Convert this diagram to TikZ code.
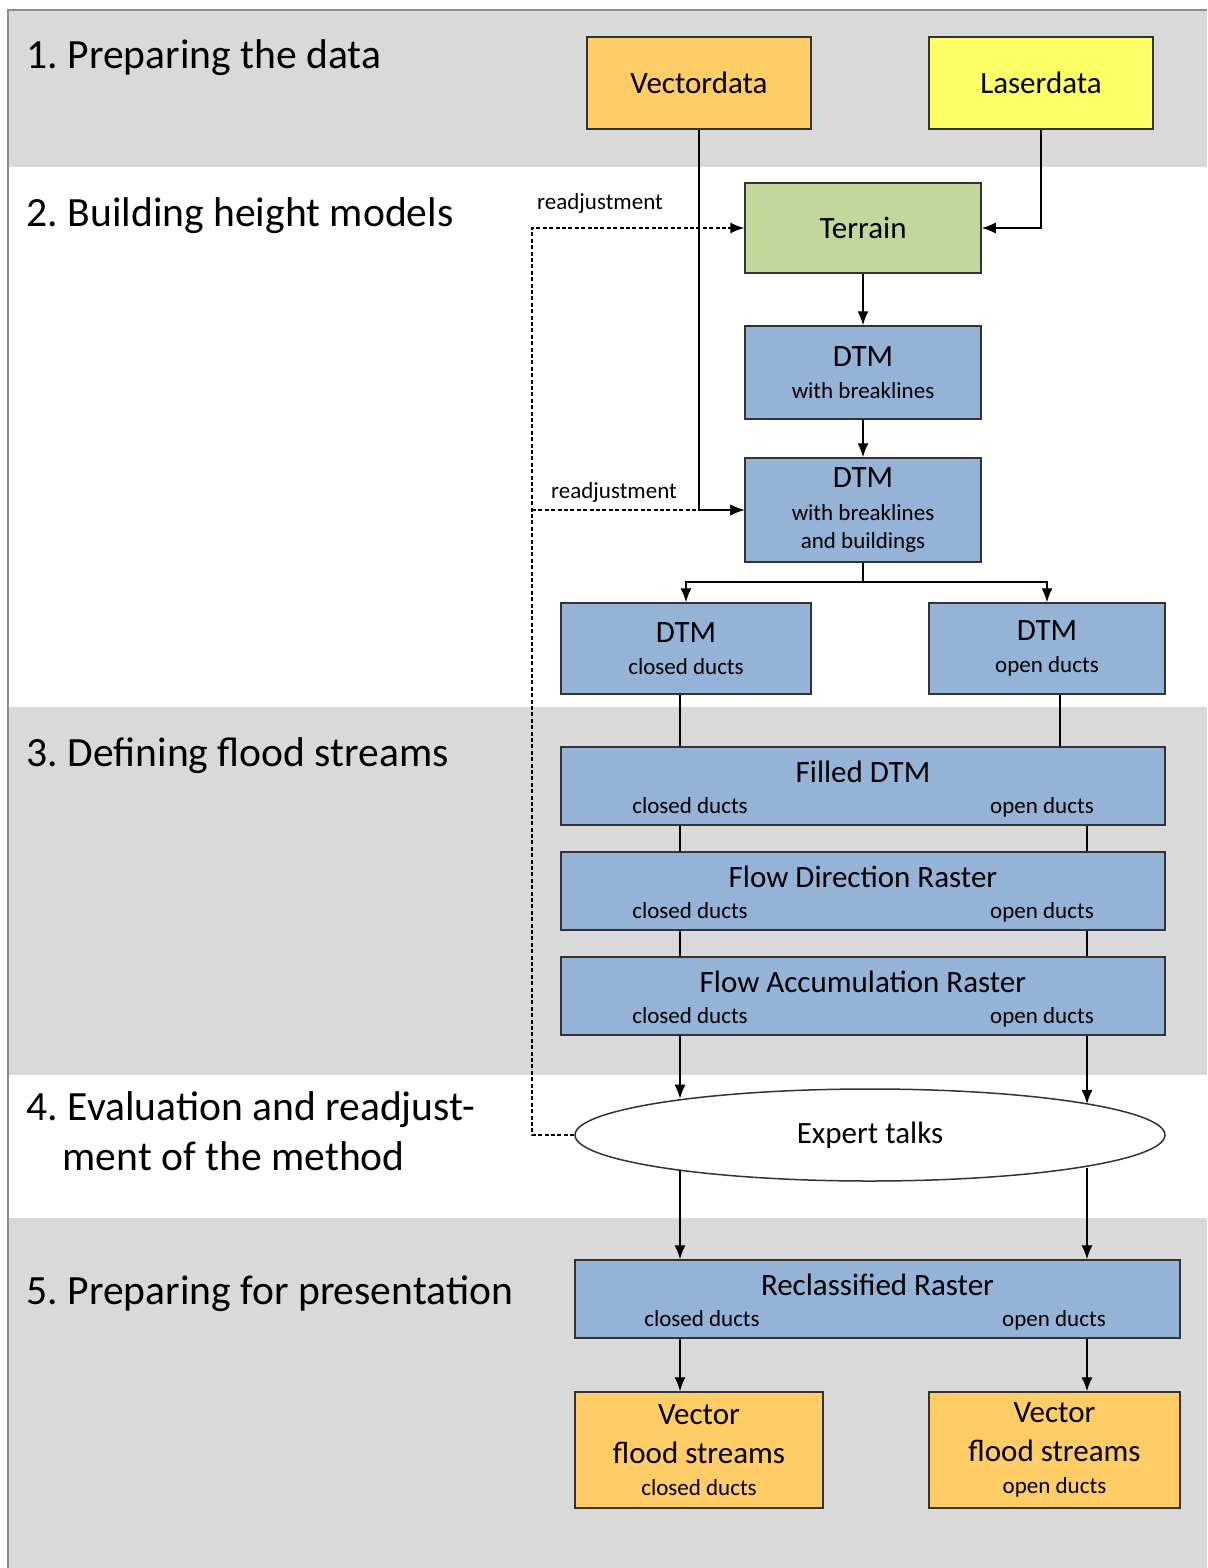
\documentclass[tikz,border=0pt]{standalone}
\usepackage{fontspec}
\setmainfont{Carlito}
\usetikzlibrary{shapes.geometric,arrows.meta}
\definecolor{vecorange}{HTML}{FFCC66}
\definecolor{laseryellow}{HTML}{FFFF66}
\definecolor{terrgreen}{HTML}{C3D69B}
\definecolor{dtmblue}{HTML}{95B3D7}
\definecolor{bandgray}{HTML}{D9D9D9}
\newcommand{\subtxt}{\fontsize{11.5}{14}\selectfont}
\newcommand{\boxtxt}{\fontsize{15.5}{18}\selectfont}
\newcommand{\steptxt}{\fontsize{20.8}{25}\selectfont}
\frenchspacing
\begin{document}
\begin{tikzpicture}[x=0.5pt,y=-0.5pt,line width=0.7pt,>={Latex[length=7pt,width=5.5pt]},
box/.style={draw=black!80,line width=0.75pt,inner sep=0pt,align=center,font=\boxtxt},
sub/.style={font=\subtxt,inner sep=0pt,anchor=base},
ttl/.style={font=\boxtxt,inner sep=0pt,anchor=base},
steplabel/.style={anchor=base west,inner sep=0pt,font=\steptxt},
band/.style={fill=bandgray}]
\useasboundingbox (0,0) rectangle (1207,1568);
\foreach \ya/\yb in {10/167,707/1075,1218/1568}
\fill[band] (8,\ya) rectangle (1207,\yb);
\draw[black!45,line width=1pt] (1207,10) -- (8,10) -- (8,1568);

\foreach \n/\y/\txt in {s1/69/1. Preparing the data,s2/226/2. Building height models,s3/766/3. Defining flood streams,s4/1120/4. Evaluation and readjust-,s5/1304/5. Preparing for presentation}
\node[steplabel] (\n) at (26,\y) {\txt};
\node[steplabel] (s4b) at (62,1170) {ment of the method};

\node[box,fill=vecorange,minimum width=112pt,minimum height=46pt] (vec) at (699,83) {Vectordata};
\node[box,fill=laseryellow,minimum width=112pt,minimum height=46pt] (laser) at (1041,83) {Laserdata};
\node[box,fill=terrgreen,minimum width=118pt,minimum height=45pt] (terrain) at (863,228) {Terrain};
\node[box,fill=dtmblue,minimum width=118pt,minimum height=46.5pt] (dtm1) at (863,372.5) {DTM\\[-2pt]{\subtxt with breaklines}};
\node[box,fill=dtmblue,minimum width=118pt,minimum height=52pt] (dtm2) at (863,510) {DTM\\[-1.5pt]{\subtxt with breaklines}\\[-4pt]{\subtxt and buildings}};
\node[box,fill=dtmblue,minimum width=125pt,minimum height=45.5pt] (dtmc) at (686,648.5) {DTM\\[-2pt]{\subtxt closed ducts}};
\node[box,fill=dtmblue,minimum width=118pt,minimum height=45.5pt] (dtmo) at (1047,648.5) {DTM\\[-2pt]{\subtxt open ducts}};

\foreach \n/\y/\txt in {fill/786/Filled DTM,fdir/891/Flow Direction Raster,facc/996/Flow Accumulation Raster}{
\node[box,fill=dtmblue,minimum width=302pt,minimum height=39pt] (\n) at (863,\y) {};
\node[ttl] (\n-t) at (863,\y-4) {\txt};
\node[sub] (\n-c) at (690,\y+27) {closed ducts};
\node[sub] (\n-o) at (1042,\y+27) {open ducts};
}

\node[draw=black!80,line width=0.75pt,ellipse,fill=white,minimum width=295pt,minimum height=46pt,inner sep=0pt,font=\boxtxt] (expert) at (870,1135) {Expert talks};

\node[box,fill=dtmblue,minimum width=302.5pt,minimum height=39pt] (recl) at (877.5,1299) {};
\node[ttl] (recl-t) at (877.5,1295) {Reclassified Raster};
\node[sub] (recl-c) at (702,1326) {closed ducts};
\node[sub] (recl-o) at (1054,1326) {open ducts};

\node[box,fill=vecorange,minimum width=124pt,minimum height=58pt] (vfc) at (699,1450) {Vector\\[1.5pt]flood streams\\[-2pt]{\subtxt closed ducts}};
\node[box,fill=vecorange,minimum width=125.5pt,minimum height=58pt] (vfo) at (1054.5,1450) {Vector\\[1.5pt]flood streams\\[-2pt]{\subtxt open ducts}};

\node[sub,anchor=center] (readj1) at (600,203) {readjustment};
\node[sub,anchor=center] (readj2) at (614,492) {readjustment};

\coordinate (lc) at (680,0);
\coordinate (rc) at (1087,0);
\coordinate (rc2) at (1060,0);
\coordinate (split) at (863,582);
\coordinate (back) at (532,510);

\draw[->] (vec) |- (dtm2);
\draw[->] (laser) |- (terrain);
\draw[->] (terrain) -- (dtm1);
\draw[->] (dtm1) -- (dtm2);
\draw[line width=1pt] (dtm2) -- (split);
\draw[->] (split) -| (dtmc);
\draw[->] (split) -| (dtmo);
\draw (dtmc.south -| lc) -- (fill.north -| lc);
\draw (dtmo.south -| rc2) -- (fill.north -| rc2);
\foreach \a/\b in {fill/fdir,fdir/facc}
\draw (\a.south -| lc) -- (\b.north -| lc) (\a.south -| rc) -- (\b.north -| rc);
\draw[->] (facc.south -| lc) -- (lc |- expert.169.6);
\draw[->] (facc.south -| rc) -- (rc |- expert.8.2);
\draw[->] (lc |- expert.190.4) -- (recl.north -| lc);
\draw[->] (rc |- expert.351.8) -- (recl.north -| rc);
\draw[->] (recl.south -| lc) -- (vfc.north -| lc);
\draw[->] (recl.south -| rc) -- (vfo.north -| rc);

\draw[->,dash pattern=on 2pt off 1.2pt] (expert.west) -| (back) |- (terrain.west);
\draw[->,dash pattern=on 2pt off 1.2pt] (back) -- (dtm2);
\end{tikzpicture}
\end{document}
